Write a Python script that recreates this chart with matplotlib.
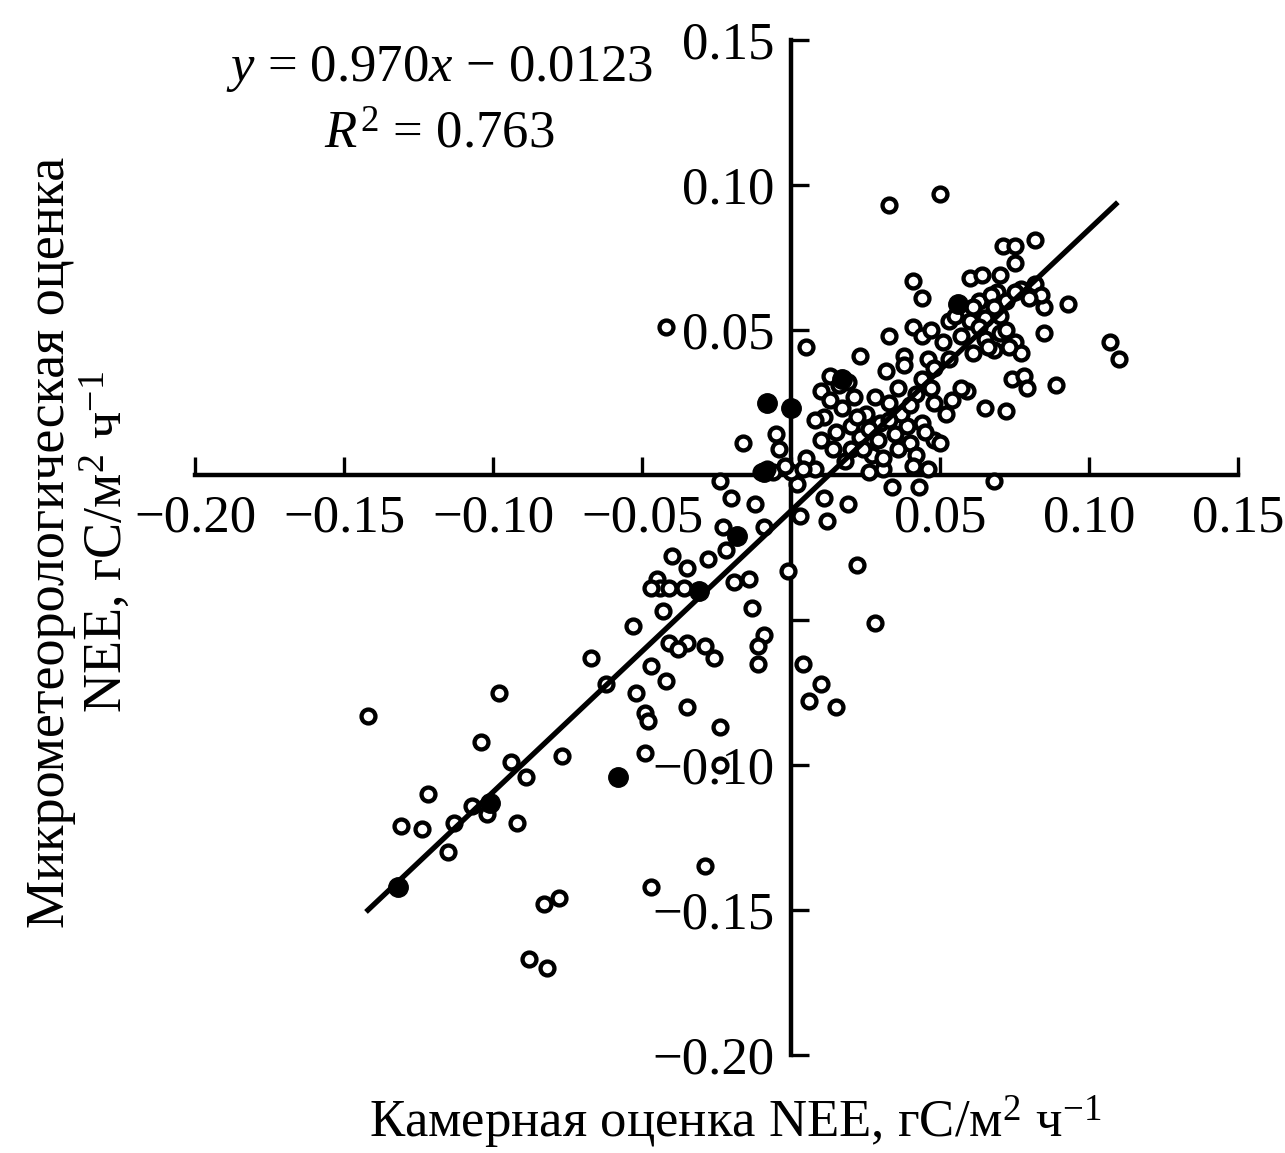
import numpy as np
import matplotlib.pyplot as plt
from matplotlib.ticker import FixedLocator, FixedFormatter

plt.rcParams['font.family'] = ['Liberation Serif', 'DejaVu Serif']
plt.rcParams['mathtext.fontset'] = 'custom'
plt.rcParams['mathtext.rm'] = 'Liberation Serif'
plt.rcParams['mathtext.it'] = 'Liberation Serif:italic'

# верхняя правая группа (положительный NEE)
x_upper = [0.033, 0.050, 0.071, 0.075, 0.075, 0.082, 0.041, 0.044, 0.060, 0.064,
           0.070, 0.069, 0.093, 0.085, 0.085, 0.107, 0.110, 0.053, 0.041, 0.051,
           0.033, 0.023, 0.005, 0.038, 0.046, 0.070, 0.075, 0.068, 0.077, 0.061,
           0.089, 0.074, 0.078, 0.079, 0.065, 0.072, 0.059, 0.068, 0.043, 0.048,
           0.040, 0.058, 0.063, 0.067, 0.072, 0.077, 0.082, 0.084, 0.060, 0.065,
           0.057, 0.070, 0.072, 0.065, 0.061, 0.068, 0.075, 0.080, 0.055, 0.063,
           0.044, 0.047, 0.066, 0.073]
y_upper = [0.093, 0.097, 0.079, 0.079, 0.073, 0.081, 0.067, 0.061, 0.068, 0.069,
           0.069, 0.063, 0.059, 0.058, 0.049, 0.046, 0.040, 0.053, 0.051, 0.046,
           0.048, 0.041, 0.044, 0.041, 0.040, 0.049, 0.046, 0.043, 0.042, 0.042,
           0.031, 0.033, 0.034, 0.030, 0.023, 0.022, 0.029, -0.002, -0.004, 0.012,
           0.011, 0.057, 0.060, 0.062, 0.060, 0.064, 0.066, 0.062, 0.053, 0.054,
           0.048, 0.055, 0.050, 0.047, 0.058, 0.058, 0.063, 0.061, 0.055, 0.051,
           0.048, 0.050, 0.044, 0.044]

# центральное скопление около нуля
x_center = [-0.016, -0.005, -0.004, 0.013, 0.010, 0.032, -0.024, -0.020, -0.012, -0.010,
            -0.006, 0.002, 0.011, 0.019, 0.034, 0.021, 0.030, 0.039, 0.036, 0.031,
            0.020, 0.014, 0.011, 0.048, 0.050, 0.046, 0.026, 0.005, 0.057, 0.017,
            0.028, 0.023, 0.033, 0.044, 0.048, 0.008, 0.016, 0.025, 0.037, 0.042,
            0.027, 0.042, 0.052, 0.053, 0.038, 0.020, 0.008, 0.000, 0.015, 0.018,
            0.022, 0.026, 0.029, 0.033, 0.035, 0.040, 0.044, 0.047, 0.013, 0.019,
            0.024, 0.031, 0.036, 0.041, 0.045, 0.010, 0.004, 0.054, -0.008, -0.002]
y_center = [0.011, 0.014, 0.009, 0.034, 0.029, 0.036, -0.002, -0.008, -0.010, 0.001,
            0.001, -0.003, -0.008, -0.010, -0.004, 0.027, 0.018, 0.017, 0.009, 0.002,
            0.009, 0.009, 0.020, 0.025, 0.011, 0.002, 0.001, 0.006, 0.030, 0.023,
            0.027, 0.013, 0.025, 0.033, 0.037, 0.019, 0.031, 0.021, 0.021, 0.028,
            0.007, 0.007, 0.021, 0.040, 0.038, 0.017, 0.002, 0.001, 0.015, 0.005,
            0.020, 0.016, 0.012, 0.019, 0.014, 0.024, 0.018, 0.030, 0.026, 0.032,
            0.009, 0.006, 0.030, 0.003, 0.015, 0.012, 0.002, 0.026, 0.002, 0.003]

# отрицательный NEE
x_lower = [-0.023, -0.022, -0.009, -0.040, -0.035, -0.028, -0.045, -0.044, -0.041, -0.047,
           -0.036, -0.014, -0.019, -0.043, -0.053, -0.013, -0.009, -0.011, -0.011, -0.041,
           -0.035, -0.038, -0.029, -0.026, -0.067, -0.047, -0.062, -0.042, -0.052, -0.049,
           -0.048, -0.035, -0.001, 0.012, 0.003, 0.022, 0.028, 0.004, 0.010, 0.006,
           0.015]
y_lower = [-0.018, -0.026, -0.018, -0.028, -0.032, -0.029, -0.036, -0.039, -0.039, -0.039,
           -0.039, -0.036, -0.037, -0.047, -0.052, -0.046, -0.055, -0.059, -0.065, -0.058,
           -0.058, -0.060, -0.059, -0.063, -0.063, -0.066, -0.072, -0.071, -0.075, -0.082,
           -0.085, -0.080, -0.033, -0.016, -0.014, -0.031, -0.051, -0.065, -0.072, -0.078,
           -0.080]

# нижний хвост распределения
x_tail = [-0.142, -0.098, -0.104, -0.094, -0.089, -0.077, -0.049, -0.122, -0.107, -0.102,
          -0.113, -0.092, -0.131, -0.124, -0.115, -0.083, -0.078, -0.088, -0.082, -0.047,
          -0.029, -0.024, -0.024, -0.042]
y_tail = [-0.083, -0.075, -0.092, -0.099, -0.104, -0.097, -0.096, -0.110, -0.114, -0.117,
          -0.120, -0.120, -0.121, -0.122, -0.130, -0.148, -0.146, -0.167, -0.170, -0.142,
          -0.135, -0.087, -0.100, 0.051]

# залитые точки (наложение)
x_solid = [-0.008, 0.000, -0.018, -0.031, -0.058, -0.101, -0.132, -0.009, 0.017, 0.056]
y_solid = [0.025, 0.023, -0.021, -0.040, -0.104, -0.113, -0.142, 0.001, 0.033, 0.059]

# линия регрессии
slope, intercept = 0.970, -0.0123
r2 = 0.763
fit_x = np.array([-0.142, 0.109])

ticks = [-0.20, -0.15, -0.10, -0.05, 0.0, 0.05, 0.10, 0.15]
xlabels = ['\u22120.20', '\u22120.15', '\u22120.10', '\u22120.05', '', '0.05', '0.10', '0.15']
ylabels = ['\u22120.20', '\u22120.15', '\u22120.10', '', '', '0.05', '0.10', '0.15']

fig = plt.figure(figsize=(12.85, 11.53), dpi=100)
ax = fig.add_axes([0.1518, 0.085, 0.8117, 0.8803])

x_all = x_upper + x_center + x_lower + x_tail
y_all = y_upper + y_center + y_lower + y_tail
ax.plot(x_all, y_all, 'o', ms=10, mfc='white', mec='black', mew=3.1, zorder=3, clip_on=False)
ax.plot(x_solid, y_solid, 'o', ms=14, mfc='black', mec='black', zorder=3, clip_on=False)
ax.plot(fit_x, slope * fit_x + intercept, color='black', lw=3.8, zorder=4)

ax.set_xlim(-0.20, 0.15)
ax.set_ylim(-0.20, 0.15)
for s in ['top', 'right']:
    ax.spines[s].set_visible(False)
for s in ['left', 'bottom']:
    ax.spines[s].set_position(('data', 0))
    ax.spines[s].set_linewidth(3.2)
ax.xaxis.set_major_locator(FixedLocator(ticks))
ax.xaxis.set_major_formatter(FixedFormatter(xlabels))
ax.yaxis.set_major_locator(FixedLocator(ticks))
ax.yaxis.set_major_formatter(FixedFormatter(ylabels))
ax.tick_params(direction='in', length=13, width=2.4, labelsize=38)
ax.tick_params(axis='x', pad=14)
ax.tick_params(axis='y', pad=12)
ax.patch.set_alpha(0)

fig.text(0.342, 0.94, r'$y$ = 0.970$x$ $-$ 0.0123', ha='center', va='center', fontsize=38)
fig.text(0.342, 0.883, r'$R^2$ = 0.763', ha='center', va='center', fontsize=38)

fig.text(0.572, 0.027, r'Камерная оценка NEE, гС/м$^2$ ч$^{-1}$',
         ha='center', va='center', fontsize=38)
fig.text(0.062, 0.53, 'Микрометеорологическая оценка\n' + r'NEE, гС/м$^2$ ч$^{-1}$',
         ha='center', va='center', rotation=90, fontsize=39, linespacing=1.1)

fig.savefig('out.png', dpi=100)
